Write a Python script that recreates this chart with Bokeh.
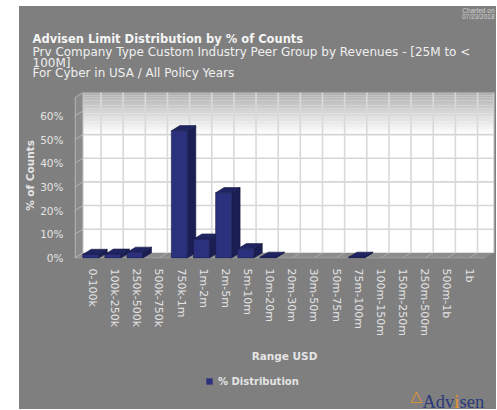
from bokeh.plotting import figure
from bokeh.models import Range1d, FixedTicker, Label, Legend, LegendItem, Spacer
from bokeh.layouts import row, column
from bokeh.embed import file_html
from bokeh.resources import INLINE

# ---------------- data ----------------
categories = ["0-100k", "100k-250k", "250k-500k", "500k-750k", "750k-1m", "1m-2m",
              "2m-5m", "5m-10m", "10m-20m", "20m-30m", "30m-50m", "50m-75m",
              "75m-100m", "100m-150m", "150m-250m", "250m-500m", "500m-1b", "1b"]
pct_distribution = [1.5, 1.6, 2.4, 0.0, 53.8, 8.0, 27.6, 3.9, 0.3, 0.0, 0.0, 0.0,
                    0.3, 0.0, 0.0, 0.0, 0.0, 0.0]
y_ticks = [0, 10, 20, 30, 40, 50, 60]
y_tick_labels = ["0%", "10%", "20%", "30%", "40%", "50%", "60%"]
series_name = "% Distribution"
title_text = "Advisen Limit Distribution by % of Counts"
subtitle_lines = ["Prv Company Type Custom Industry Peer Group by Revenues - [25M to <",
                  "100M]", "For Cyber in USA / All Policy Years"]
charted_lines = ["Charted on", "07/23/2018"]
logo_parts = ["Adv", "i", "sen"]

# ---------------- geometry / style ----------------
BG = "#7f7f7f"
FONT = "DejaVu Sans"
TXT = "#e4e4e4"
FIG_W = 477
HEAD_H, FOOT_H = 86, 45
BL, BR = 55, 2
FH, BB = 176, 96
X0, X1 = -0.813, 18.15
Y0, Y1 = -0.2, 70.0
SX = (FIG_W - BL - BR) / (X1 - X0)
SY = FH / (Y1 - Y0)
DX = 8.5 / SX                 # 3D depth offset in data units
DY = 5.5 / SY
XL = X0
XR = X1 - 0.02 - DX
YTOP = Y1
BAR_L, BAR_R = -0.44, 0.28


def no_align(f):
    if "frame_align" in f.properties():
        f.frame_align = False
    return f


def panel_fig(h):
    f = figure(width=FIG_W, height=h, x_range=Range1d(0, FIG_W), y_range=Range1d(h, 0),
               x_axis_type=None, y_axis_type=None, output_backend="svg",
               toolbar_location=None, title=None, min_border=0)
    f.background_fill_color = BG
    f.border_fill_color = BG
    f.outline_line_color = None
    return no_align(f)


def lab(f, text, x, y, size, style="normal", color="#f2f2f2", font=FONT,
        align="left", baseline="middle"):
    f.add_layout(Label(x=x, y=y, text=text, text_font=font, text_font_size=size,
                       text_font_style=style, text_color=color,
                       text_align=align, text_baseline=baseline))


# ---------------- header (titles) ----------------
head = panel_fig(HEAD_H)
lab(head, title_text, 13, 32, "11.5px", "bold", color="#f4f4f4")
for line, yy in zip(subtitle_lines, [45.5, 56.5, 66]):
    lab(head, line, 13, yy, "12px", color="#efefef")
for line, yy in zip(charted_lines, [3.5, 9.5]):
    lab(head, line, 475, yy, "6.5px", color="#d4d4d4", font="Liberation Sans", align="right")

# ---------------- main chart ----------------
p = figure(width=FIG_W, height=FH + BB, x_range=Range1d(X0, X1), y_range=Range1d(Y0, Y1),
           output_backend="svg", toolbar_location=None, title=None,
           min_border_left=BL, min_border_right=BR, min_border_top=0, min_border_bottom=BB)
no_align(p)
p.background_fill_color = BG
p.border_fill_color = BG
p.outline_line_color = None
p.xgrid.visible = False
p.ygrid.visible = False

ncat = len(categories)
# floor
p.patch([XL, XR, XR + DX, XL + DX], [0, 0, DY, DY], fill_color="#8c8c8c", line_color=None)
p.segment(x0=list(range(ncat)), y0=[0] * ncat, x1=[k + DX for k in range(ncat)], y1=[DY] * ncat,
          line_color="#ababab", line_width=1)
p.segment(x0=[XL], y0=[0], x1=[XR], y1=[0], line_color="#a6a6a6", line_width=1)

# back wall with gradient top
p.quad(left=[XL + DX], right=[XR + DX], bottom=[DY], top=[YTOP], fill_color="white", line_color=None)
n_strips = 16
g_bottom = 50 + DY
for i in range(n_strips):
    t = (i + 0.5) / n_strips
    c = int(round(255 - t * (255 - 176)))
    p.quad(left=[XL + DX], right=[XR + DX],
           bottom=[g_bottom + (YTOP - g_bottom) * i / n_strips],
           top=[g_bottom + (YTOP - g_bottom) * (i + 1) / n_strips],
           fill_color="#%02x%02x%02x" % (c, c, c), line_color=None)
p.segment(x0=[XL + DX] * 6, y0=[v + DY for v in y_ticks[1:]],
          x1=[XR + DX] * 6, y1=[v + DY for v in y_ticks[1:]],
          line_color="#d6d6d6", line_width=1.6)
p.segment(x0=[k + DX for k in range(ncat)], y0=[DY] * ncat,
          x1=[k + DX for k in range(ncat)], y1=[YTOP] * ncat,
          line_color="#d9d9d9", line_width=1.6)
p.segment(x0=[XR + DX], y0=[DY], x1=[XR + DX], y1=[YTOP], line_color="#cfcfcf", line_width=1.5)

# left wall
p.patch([XL, XL, XL + DX, XL + DX], [0, YTOP - DY, YTOP, DY], fill_color="#8a8a8a", line_color=None)
lw_levels = y_ticks + [YTOP - DY]
p.segment(x0=[XL] * len(lw_levels), y0=lw_levels, x1=[XL + DX] * len(lw_levels),
          y1=[v + DY for v in lw_levels], line_color="#b5b5b5", line_width=1)
p.segment(x0=[XL + 0.03], y0=[0], x1=[XL + 0.03], y1=[YTOP - DY], line_color="#b5b5b5", line_width=1.2)
p.segment(x0=[XL + DX], y0=[DY], x1=[XL + DX], y1=[YTOP], line_color="#c4c4c4", line_width=1)

# bars (3D: side, top, front)
BAR_FRONT, BAR_TOP, BAR_SIDE, BAR_EDGE = "#2b317d", "#1f2462", "#1b1e52", "#15173f"
idx = [k for k, v in enumerate(pct_distribution) if v > 0]
vals = [pct_distribution[k] for k in idx]
p.patches([[k + BAR_R, k + BAR_R + DX, k + BAR_R + DX, k + BAR_R] for k in idx],
          [[0, DY, v + DY, v] for v in vals],
          fill_color=BAR_SIDE, line_color=BAR_EDGE, line_width=0.6)
p.patches([[k + BAR_L, k + BAR_R, k + BAR_R + DX, k + BAR_L + DX] for k in idx],
          [[v, v, v + DY, v + DY] for v in vals],
          fill_color=BAR_TOP, line_color=BAR_EDGE, line_width=0.6)
p.quad(left=[k + BAR_L for k in idx], right=[k + BAR_R for k in idx],
       bottom=[0] * len(idx), top=vals,
       fill_color=BAR_FRONT, line_color="#181b48", line_width=0.6)

# axes
p.xaxis.ticker = FixedTicker(ticks=list(range(ncat)))
p.xaxis.major_label_overrides = {k: c for k, c in enumerate(categories)}
p.xaxis.major_label_orientation = "vertical"
p.xaxis.axis_line_color = None
p.xaxis.major_tick_line_color = None
p.xaxis.minor_tick_line_color = None
p.xaxis.major_label_standoff = 4
p.xaxis.major_label_text_font = FONT
p.xaxis.major_label_text_font_size = "11px"
p.xaxis.major_label_text_color = TXT
p.xaxis.axis_label = "Range USD"
p.xaxis.axis_label_text_font = FONT
p.xaxis.axis_label_text_font_size = "10.5px"
p.xaxis.axis_label_text_font_style = "bold"
p.xaxis.axis_label_text_color = TXT
p.xaxis.axis_label_standoff = 11

p.yaxis.ticker = FixedTicker(ticks=y_ticks)
p.yaxis.major_label_overrides = {v: s for v, s in zip(y_ticks, y_tick_labels)}
p.yaxis.axis_line_color = None
p.yaxis.major_tick_line_color = None
p.yaxis.minor_tick_line_color = None
p.yaxis.major_label_standoff = 5
p.yaxis.major_label_text_font = FONT
p.yaxis.major_label_text_font_size = "10.5px"
p.yaxis.major_label_text_color = TXT
p.yaxis.axis_label = "% of Counts"
p.yaxis.axis_label_text_font = FONT
p.yaxis.axis_label_text_font_size = "10.5px"
p.yaxis.axis_label_text_font_style = "bold"
p.yaxis.axis_label_text_color = TXT
p.yaxis.axis_label_standoff = 1

# ---------------- footer (legend + logo) ----------------
foot = panel_fig(FOOT_H)
nan = float("nan")
swatch = foot.quad(left=[nan], right=[nan], bottom=[nan], top=[nan],
                   fill_color=BAR_FRONT, line_color=None)
legend = Legend(items=[LegendItem(label=series_name, renderers=[swatch])],
                location=(186, 22), orientation="horizontal",
                background_fill_alpha=0, border_line_color=None,
                glyph_width=8, glyph_height=8, label_height=12, label_standoff=5,
                padding=0, margin=0, spacing=0,
                label_text_font=FONT, label_text_font_size="10px",
                label_text_font_style="bold", label_text_color=TXT)
foot.add_layout(legend, "center")
lab(foot, "\u25B3", 391, 31, "15px", "bold", color="#e8962a")
LOGO_SIZE = 18.5
logo_x = 403
for part, col in zip(logo_parts, ["#2b3a7a", "#e8962a", "#2b3a7a"]):
    lab(foot, part, logo_x, 37, "%spx" % LOGO_SIZE, color=col, font="Liberation Serif",
        baseline="alphabetic")
    # advance by Liberation Serif glyph widths (em units)
    em = {"A": 0.722, "d": 0.5, "v": 0.5, "i": 0.278, "s": 0.389, "e": 0.444, "n": 0.5}
    logo_x += sum(em[ch] for ch in part) * LOGO_SIZE

chart = column(head, p, foot, styles={"background-color": BG})
layout = column(Spacer(width=496, height=6),
                row(Spacer(width=19, height=HEAD_H + FH + BB + FOOT_H), chart))
open("out.html", "w").write(file_html(layout, INLINE))
